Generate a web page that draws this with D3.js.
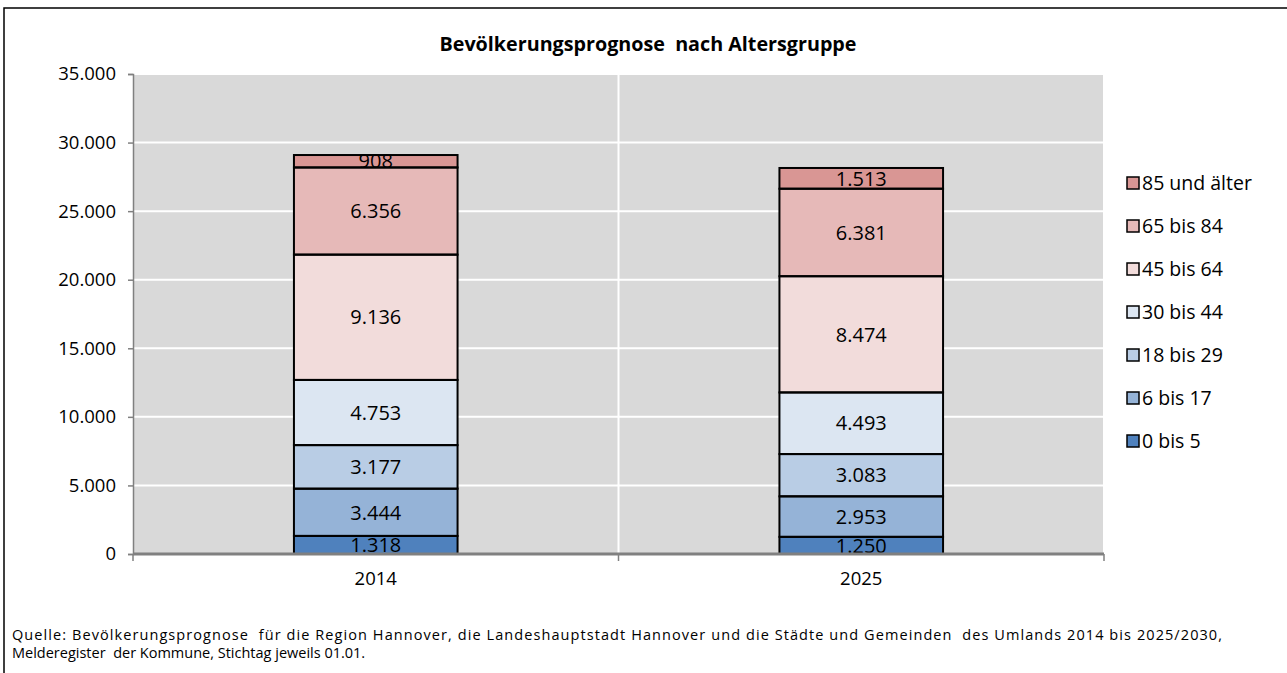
<!DOCTYPE html>
<html><head><meta charset="utf-8">
<script src="https://cdn.jsdelivr.net/npm/d3@7"></script>
<style>
body{margin:0;background:#fff;}
svg{display:block;font-family:"Open Sans",sans-serif;}
text{white-space:pre;}
</style></head>
<body>
<svg id="c" width="1287" height="673"></svg>
<script>
const years = ["2014", "2025"];
const groups = ["0 bis 5", "6 bis 17", "18 bis 29", "30 bis 44", "45 bis 64", "65 bis 84", "85 und älter"];
const values2014 = [1318, 3444, 3177, 4753, 9136, 6356, 908];
const values2025 = [1250, 2953, 3083, 4493, 8474, 6381, 1513];
const colors = ["#4F81BD", "#95B3D7", "#B9CDE5", "#DCE6F2", "#F2DCDB", "#E6B9B8", "#D99694"];
const yTicks = [0, 5000, 10000, 15000, 20000, 25000, 30000, 35000];
const title = "Bevölkerungsprognose  nach Altersgruppe";
const source = ["Quelle: Bevölkerungsprognose  für die Region Hannover, die Landeshauptstadt Hannover und die Städte und Gemeinden  des Umlands 2014 bis 2025/2030,",
                "Melderegister  der Kommune, Stichtag jeweils 01.01."];

const svg = d3.select("#c");
const fmt = v => d3.format(",")(v).replace(/,/g, ".");

// outer frame
svg.append("rect").attr("x", 4).attr("y", 8).attr("width", 1400).attr("height", 800)
  .attr("fill", "#fff").attr("stroke", "#000").attr("stroke-width", 1.5);

const L = 133, R = 1104, T = 74, B = 554;
const x = d3.scaleBand().domain(years).range([L, R]).padding(0);
const y = d3.scaleLinear().domain([0, 35000]).range([B, T]);

// plot background
svg.append("rect").attr("x", L).attr("y", T).attr("width", R - L).attr("height", B - T).attr("fill", "#D9D9D9");

// gridlines
svg.append("g").selectAll("line").data(yTicks.slice(1)).join("line")
  .attr("x1", L).attr("x2", R).attr("y1", d => y(d)).attr("y2", d => y(d))
  .attr("stroke", "#fff").attr("stroke-width", 2);
const vlines = [L + x.step(), R];
svg.append("g").selectAll("line").data(vlines).join("line")
  .attr("x1", d => d).attr("x2", d => d).attr("y1", T).attr("y2", B)
  .attr("stroke", "#fff").attr("stroke-width", 2);

// y axis
const yAxis = d3.axisLeft(y).tickValues(yTicks).tickFormat(fmt).tickSize(5).tickPadding(12);
const gy = svg.append("g").attr("transform", `translate(${L},0)`).call(yAxis);
gy.select(".domain").attr("stroke", "#808080").attr("stroke-width", 1.5);
gy.selectAll(".tick line").attr("stroke", "#808080").attr("stroke-width", 1.5);
gy.selectAll("text").attr("font-size", 18.5).attr("fill", "#000").attr("font-family", "Open Sans");

// stacked bars
const data = years.map((yr, i) => {
  const vals = i === 0 ? values2014 : values2025;
  const row = {year: yr};
  groups.forEach((g, j) => row[g] = vals[j]);
  return row;
});
const stack = d3.stack().keys(groups)(data);
const barW = x.bandwidth() * 0.337;
const bx = d => x(d.data.year) + x.bandwidth() / 2 - barW / 2;

const gBars = svg.append("g");
stack.forEach((s, j) => {
  gBars.selectAll(null).data(s).join("rect")
    .attr("x", bx).attr("width", barW)
    .attr("y", d => y(d[1])).attr("height", d => y(d[0]) - y(d[1]))
    .attr("fill", colors[j]);
});
const gLab = svg.append("g");
stack.forEach((s, j) => {
  gLab.selectAll(null).data(s).join("text")
    .attr("x", d => x(d.data.year) + x.bandwidth() / 2)
    .attr("y", d => (y(d[0]) + y(d[1])) / 2)
    .attr("dy", "0.36em").attr("text-anchor", "middle")
    .attr("font-size", 20).attr("fill", "#000")
    .text(d => fmt(d[1] - d[0]));
});
const gOut = svg.append("g");
stack.forEach((s, j) => {
  gOut.selectAll(null).data(s).join("rect")
    .attr("x", bx).attr("width", barW)
    .attr("y", d => y(d[1])).attr("height", d => y(d[0]) - y(d[1]))
    .attr("fill", "none").attr("stroke", "#000").attr("stroke-width", 2);
});

// x axis
const xAxisLine = svg.append("g");
xAxisLine.append("line").attr("x1", L).attr("x2", R).attr("y1", B).attr("y2", B)
  .attr("stroke", "#808080").attr("stroke-width", 3);
xAxisLine.selectAll(".tk").data([L, L + x.step(), R]).join("line")
  .attr("x1", d => d).attr("x2", d => d).attr("y1", B).attr("y2", B + 7)
  .attr("stroke", "#808080").attr("stroke-width", 1.5);
svg.append("g").selectAll("text").data(years).join("text")
  .attr("x", d => x(d) + x.bandwidth() / 2).attr("y", 585)
  .attr("text-anchor", "middle").attr("font-size", 18.5).text(d => d);

// title
svg.append("text").attr("x", 648).attr("y", 51).attr("text-anchor", "middle")
  .attr("font-size", 19).attr("font-weight", "bold")
  .attr("textLength", 417).attr("lengthAdjust", "spacingAndGlyphs").text(title);

// legend
const lg = svg.append("g");
const order = groups.slice().reverse();
order.forEach((g, i) => {
  const yy = 183 + i * 43;
  lg.append("rect").attr("x", 1127).attr("y", yy - 6).attr("width", 12).attr("height", 12)
    .attr("fill", colors[groups.indexOf(g)]).attr("stroke", "#000").attr("stroke-width", 1.5);
  lg.append("text").attr("x", 1142).attr("y", yy).attr("dy", "0.36em")
    .attr("font-size", 19.5).text(g);
});

// source
source.forEach((s, i) => {
  const t = svg.append("text").attr("x", 12).attr("y", 640 + i * 18).attr("font-size", 14.5).text(s);
  if (i === 0) t.attr("textLength", 1210).attr("lengthAdjust", "spacing");
});
</script>
</body></html>
